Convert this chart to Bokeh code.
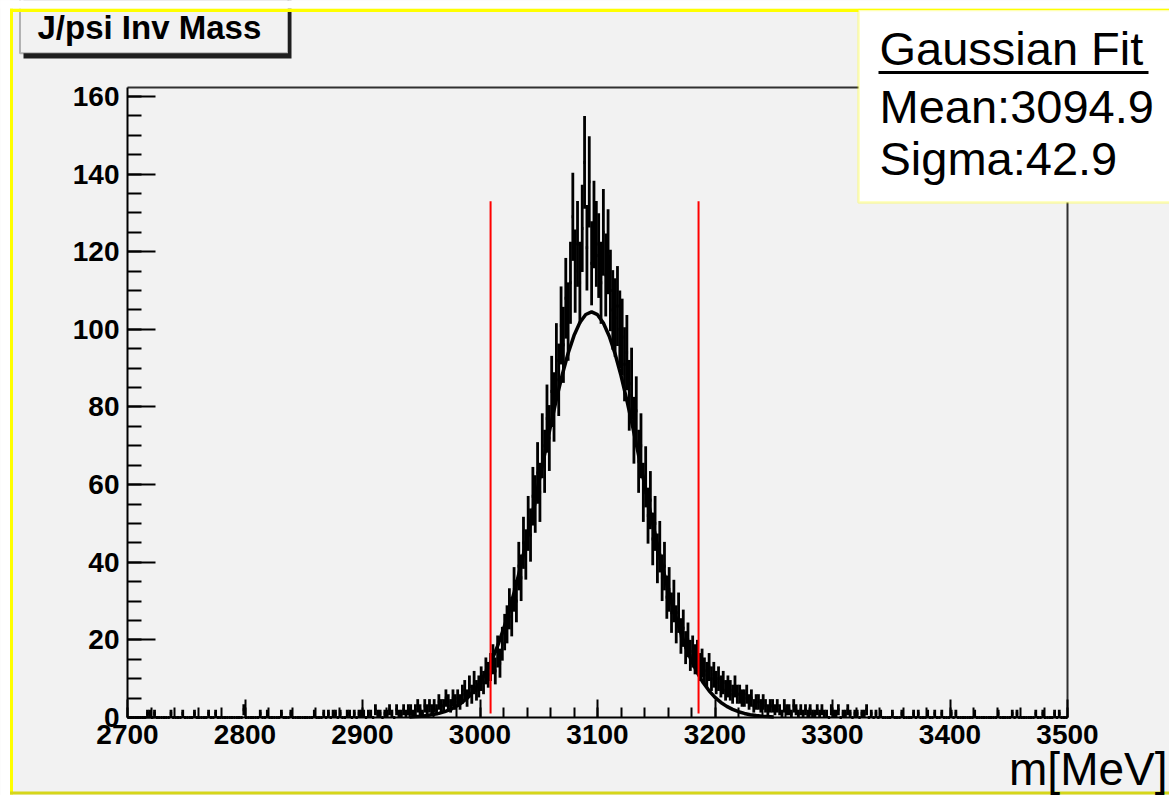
import math
from bokeh.plotting import figure
from bokeh.models import (Range1d, SingleIntervalTicker, Label, BoxAnnotation,
                          ColumnDataSource, LinearAxis)
from bokeh.embed import file_html
from bokeh.resources import INLINE

# ---------------- data ----------------
x_start, x_end = 2700, 3500
bin_width = 2
counts = [
    0, 0, 0, 0, 0, 0, 0, 0, 1, 1,        # 2700-2720
    0, 1, 0, 0, 0, 0, 0, 0, 1, 0,        # 2720
    0, 0, 0, 1, 0, 0, 0, 0, 1, 0,        # 2740
    0, 0, 0, 0, 1, 0, 0, 1, 0, 0,        # 2760
    0, 0, 0, 0, 0, 0, 0, 0, 0, 2,        # 2780
    0, 0, 0, 0, 0, 0, 1, 0, 0, 1,        # 2800
    0, 0, 0, 0, 0, 1, 0, 0, 0, 1,        # 2820
    0, 0, 0, 0, 0, 0, 0, 0, 0, 1,        # 2840
    0, 0, 0, 1, 0, 1, 0, 1, 1, 0,        # 2860
    1, 0, 0, 1, 1, 0, 1, 0, 1, 1,        # 2880
    1, 0, 1, 1, 0, 2, 1, 1, 0, 1,        # 2900
    1, 2, 1, 0, 2, 1, 1, 2, 1, 2,        # 2920
    2, 1, 2, 3, 2, 1, 3, 2, 3, 2,        # 2940
    3, 2, 4, 3, 3, 5, 4, 3, 5, 4,        # 2960
    5, 4, 6, 7, 5, 8, 6, 9, 7, 8,        # 2980
    10, 9, 12, 11, 13, 15, 12, 17, 14, 19,   # 3000
    22, 24, 28, 26, 33, 30, 39, 36, 45, 42,  # 3020
    50, 47, 57, 55, 63, 58, 70, 66, 77, 72,  # 3040
    84, 80, 92, 87, 101, 96, 108, 102, 112, 129,   # 3060
    115, 122, 112, 126, 143, 121, 138, 117, 127, 122,  # 3080
    119, 112, 125, 114, 120, 110, 105, 103, 106, 100,  # 3100
    98, 91, 94, 83, 86, 74, 79, 66, 70, 58,  # 3120
    62, 52, 56, 46, 50, 41, 44, 36, 39, 31,  # 3140
    33, 27, 30, 24, 27, 21, 23, 18, 20, 16,  # 3160
    17, 15, 16, 13, 14, 12, 11, 13, 10, 11,  # 3180
    9, 10, 8, 9, 7, 8, 7, 6, 8, 6,       # 3200
    6, 5, 5, 6, 4, 5, 3, 4, 4, 3,        # 3220
    4, 3, 2, 3, 3, 2, 3, 2, 1, 3,        # 3240
    2, 2, 1, 3, 2, 1, 2, 1, 2, 1,        # 3260
    2, 1, 1, 2, 1, 2, 1, 1, 0, 2,        # 3280
    1, 1, 2, 0, 1, 1, 2, 1, 0, 1,        # 3300
    1, 0, 1, 1, 2, 0, 1, 0, 1, 0,        # 3320
    1, 0, 0, 0, 0, 1, 0, 0, 0, 1,        # 3340
    0, 0, 0, 0, 1, 0, 1, 0, 0, 0,        # 3360
    1, 0, 0, 1, 0, 0, 1, 0, 0, 0,        # 3380
    1, 0, 1, 0, 0, 0, 0, 0, 0, 0,        # 3400
    1, 0, 0, 0, 0, 0, 0, 0, 0, 0,        # 3420
    1, 0, 0, 0, 0, 0, 1, 0, 1, 0,        # 3440
    0, 0, 0, 0, 0, 0, 1, 0, 0, 1,        # 3460
    0, 0, 0, 0, 1, 0, 1, 0, 0, 0,        # 3480
]

# Gaussian fit curve, sampled every 5 MeV from 2940 to 3250
fit_x = list(range(2940, 3255, 5))
fit_y = [
    0.15, 0.23, 0.35, 0.51, 0.75, 1.07, 1.51, 2.10, 2.89, 3.93, 5.26, 6.95,
    9.04, 11.63, 14.75, 18.44, 22.76, 27.71, 33.28, 39.43, 46.07, 53.13,
    60.43, 67.81, 75.06, 81.96, 88.30, 93.84, 98.39, 101.75, 103.82, 104.50,
    103.77, 101.65, 98.22, 93.63, 88.07, 81.70, 74.78, 67.52, 60.14, 52.85,
    45.80, 39.17, 33.04, 27.50, 22.57, 18.29, 14.61, 11.52, 8.95, 6.87,
    5.20, 3.88, 2.86, 2.08, 1.49, 1.05, 0.73, 0.50, 0.34, 0.23, 0.15,
]

cut_edges = [3009, 3186]
cut_height = 133

title_text = "J/psi Inv Mass"
stats_lines = ["Gaussian Fit", "Mean:3094.9", "Sigma:42.9"]
x_label = "m[MeV]"
x_tick_interval = 100
y_tick_interval = 20
y_top = 162.3

# ---------------- layout constants (pixels on the page) ----------------
W, H = 1169, 795
FL, FT, FW, FH = 127, 87, 940, 630   # the histogram's box inside the canvas
BG = "#f2f2f2"
FONT = "Liberation Sans"
MID = 0.36   # text anchored at its middle: baseline sits this many em below


def dx(px):
    return x_start + (px - FL) * (x_end - x_start) / FW


def dy(py):
    return (FT + FH - py) * y_top / FH


def box(l_, r_, t_, b_, **kw):
    return BoxAnnotation(left=dx(l_), right=dx(r_), top=dy(t_), bottom=dy(b_), **kw)


def text(x_px, baseline_px, size, txt, align="left", bold=False, level="annotation"):
    return Label(x=dx(x_px), y=dy(baseline_px - MID * size), text=txt, text_font=FONT,
                 text_font_size=f"{size}px", text_font_style="bold" if bold else "normal",
                 text_color="black", text_baseline="middle", text_align=align, level=level)


# ---------------- histogram source ----------------
n = len(counts)
left = [x_start + i * bin_width for i in range(n)]
right = [l + bin_width for l in left]
center = [l + bin_width / 2 for l in left]
err_lo = [max(c - math.sqrt(c), 0) for c in counts]
err_hi = [c + math.sqrt(c) for c in counts]
src = ColumnDataSource(dict(left=left, right=right, center=center, c=counts,
                            lo=err_lo, hi=err_hi))

# the plotting frame spans the whole canvas so that boxes/texts in the margins are visible
p = figure(width=W, height=H, x_range=Range1d(dx(0), dx(W)), y_range=Range1d(dy(H), dy(0)),
           output_backend="svg", toolbar_location=None,
           x_axis_location=None, y_axis_location=None,
           min_border=0, min_border_left=0, min_border_right=0,
           min_border_top=0, min_border_bottom=0,
           background_fill_color=BG, border_fill_color=BG)
p.outline_line_color = None
p.grid.visible = False

# frame lines (top and right) of the histogram box
p.line([x_start, x_end, x_end], [y_top, y_top, 0], line_color="#303030", line_width=2)

# histogram: horizontal bin bars and vertical error bars
p.segment(x0="left", x1="right", y0="c", y1="c", source=src, line_color="black", line_width=3)
p.segment(x0="center", x1="center", y0="lo", y1="hi", source=src, line_color="black", line_width=2.8)

# fit curve
p.line(fit_x, fit_y, line_color="black", line_width=3.5)

# cut lines
p.segment(x0=cut_edges, x1=cut_edges, y0=[1, 1], y1=[cut_height, cut_height],
          line_color="#ff0000", line_width=2)

# axes, fixed inside the canvas
xaxis = LinearAxis(fixed_location=0, bounds=(x_start, x_end),
                   ticker=SingleIntervalTicker(interval=x_tick_interval, num_minor_ticks=5))
yaxis = LinearAxis(fixed_location=x_start, bounds=(0, y_top),
                   ticker=SingleIntervalTicker(interval=y_tick_interval, num_minor_ticks=4))
p.add_layout(xaxis, "below")
p.add_layout(yaxis, "left")
for ax in (xaxis, yaxis):
    ax.axis_line_width = 2
    ax.axis_line_color = "black"
    ax.major_tick_line_color = "black"
    ax.minor_tick_line_color = "black"
    ax.major_tick_line_width = 2
    ax.minor_tick_line_width = 2
    ax.major_tick_out = 0
    ax.minor_tick_out = 0
    ax.major_label_text_font = FONT
    ax.major_label_text_font_style = "bold"
    ax.major_label_text_font_size = "28px"
    ax.major_label_text_color = "black"
xaxis.major_tick_in = 18
xaxis.minor_tick_in = 10
yaxis.major_tick_in = 28
yaxis.minor_tick_in = 14
xaxis.major_label_standoff = 7
yaxis.major_label_standoff = 8

# ---------------- decorations ----------------
# page margin (white) and yellow canvas border
p.add_layout(box(-5, W + 5, -5, 8.3, fill_color="white", fill_alpha=1, line_color=None, level="overlay"))
p.add_layout(box(-5, 9.5, -5, H + 5, fill_color="white", fill_alpha=1, line_color=None, level="overlay"))
p.add_layout(box(9.5, W + 5, 8.3, 11.5, fill_color="#ffff00", fill_alpha=1, line_color=None, level="overlay"))
p.add_layout(box(9.5, 12.5, 8.3, 794, fill_color="#ffff00", fill_alpha=1, line_color=None, level="overlay"))
p.add_layout(box(9.5, W + 5, 791, 794, fill_color="#d6d61a", fill_alpha=1, line_color=None, level="overlay"))

# title box with shadow
p.add_layout(box(23, 291, 0, 58, fill_color="#1e1e1e", fill_alpha=1, line_color=None))
p.add_layout(box(19.5, 287.5, -3, 52.8, fill_color=BG, fill_alpha=1,
                 line_color="#1e1e1e", line_width=2))
p.add_layout(text(37, 39.3, 33, title_text, bold=True))

# stats box
p.add_layout(box(858, W + 20, 9.5, 202, fill_color="white", fill_alpha=1,
                 line_color="#ffff00", line_width=2.5, level="overlay"))
for txt, base in zip(stats_lines, [65, 123.3, 175]):
    p.add_layout(text(879, base, 47, txt, level="overlay"))
p.add_layout(box(878, 1148, 70.5, 73.5, fill_color="black", fill_alpha=1,
                 line_color=None, level="overlay"))

# x axis title
p.add_layout(text(1167, 785, 46, x_label, align="right", level="overlay"))

open("out.html", "w").write(file_html(p, INLINE))
